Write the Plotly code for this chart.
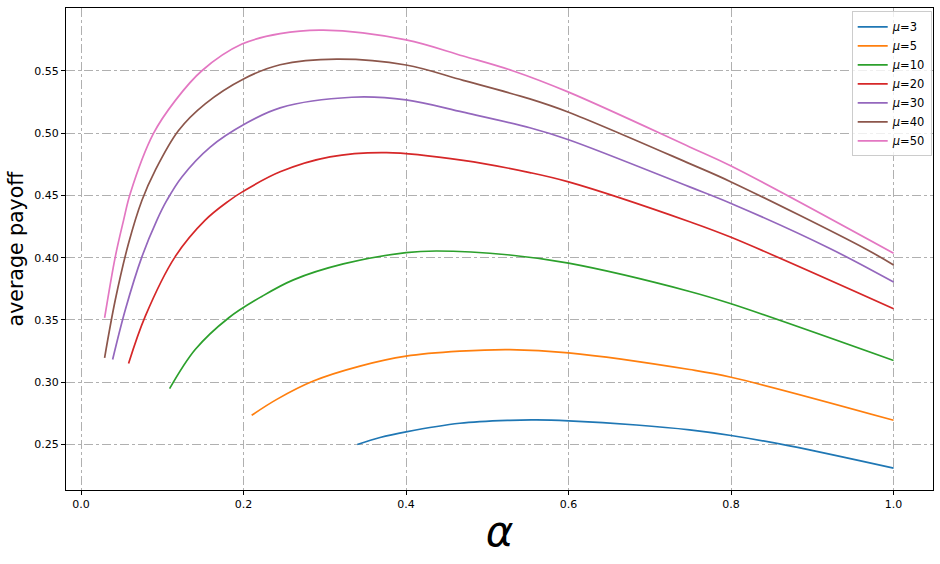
import plotly.graph_objects as go

mu_labels = ["3", "5", "10", "20", "30", "40", "50"]
colors = ["#1f77b4", "#ff7f0e", "#2ca02c", "#d62728", "#9467bd", "#8c564b", "#e377c2"]

x_mu3 = [0.34, 0.368, 0.40, 0.4662, 0.5277, 0.5605, 0.60, 0.6835, 0.749, 0.80, 0.872, 1.0]
y_mu3 = [0.250, 0.2556, 0.2601, 0.2670, 0.2694, 0.2697, 0.2689, 0.2656, 0.2617, 0.2572, 0.2489, 0.231]

x_mu5 = [0.21, 0.2409, 0.2859, 0.3433, 0.40, 0.4662, 0.5277, 0.60, 0.749, 0.80, 1.0]
y_mu5 = [0.2734, 0.2862, 0.3009, 0.3129, 0.3209, 0.3249, 0.3262, 0.3236, 0.3102, 0.3040, 0.2694]

x_mu10 = [0.109, 0.1405, 0.1815, 0.2225, 0.2614, 0.3228, 0.40, 0.4376, 0.5277, 0.60, 0.749, 0.80, 1.0]
y_mu10 = [0.2948, 0.3262, 0.3516, 0.3689, 0.3822, 0.3950, 0.4041, 0.4054, 0.4022, 0.3956, 0.3729, 0.363, 0.3174]

x_mu20 = [0.0585, 0.079, 0.1159, 0.1528, 0.1815, 0.20, 0.245, 0.3064, 0.376, 0.4703, 0.5523, 0.60, 0.749, 0.80, 1.0]
y_mu20 = [0.315, 0.3529, 0.4009, 0.4302, 0.4455, 0.4535, 0.4690, 0.4810, 0.4844, 0.4782, 0.4684, 0.4609, 0.4289, 0.4164, 0.359]

x_mu30 = [0.0389, 0.0545, 0.075, 0.0934, 0.1057, 0.1241, 0.159, 0.202, 0.245, 0.3331, 0.40, 0.4703, 0.5523, 0.60, 0.749, 0.80, 0.921, 1.0]
y_mu30 = [0.3182, 0.3582, 0.4009, 0.4302, 0.4462, 0.4649, 0.4889, 0.5076, 0.5204, 0.5289, 0.5268, 0.5169, 0.5044, 0.4948, 0.4569, 0.4436, 0.4076, 0.3804]

x_mu40 = [0.029, 0.0422, 0.0585, 0.075, 0.0913, 0.12, 0.1528, 0.20, 0.245, 0.3147, 0.40, 0.4703, 0.5523, 0.60, 0.749, 0.80, 0.964, 1.0]
y_mu40 = [0.3196, 0.3662, 0.4116, 0.4462, 0.4702, 0.5022, 0.5236, 0.5436, 0.5550, 0.5596, 0.5548, 0.5425, 0.5276, 0.5169, 0.4756, 0.4609, 0.4076, 0.3942]

x_mu50 = [0.029, 0.0422, 0.0524, 0.0606, 0.089, 0.1159, 0.1487, 0.198, 0.245, 0.2982, 0.40, 0.4703, 0.532, 0.60, 0.749, 0.80, 1.0]
y_mu50 = [0.3516, 0.4009, 0.4302, 0.4516, 0.4996, 0.5262, 0.5502, 0.5716, 0.580, 0.5828, 0.575, 0.5620, 0.550, 0.533, 0.489, 0.4737, 0.4036]

xs = [x_mu3, x_mu5, x_mu10, x_mu20, x_mu30, x_mu40, x_mu50]
ys = [y_mu3, y_mu5, y_mu10, y_mu20, y_mu30, y_mu40, y_mu50]

fig = go.Figure()
for lab, c, x, y in zip(mu_labels, colors, xs, ys):
    fig.add_trace(go.Scatter(x=x, y=y, mode="lines", name="<i>μ</i>=" + lab,
                             line=dict(color=c, width=1.7, shape="spline", smoothing=1.0)))

axis_common = dict(showline=True, linecolor="black", linewidth=1.2, mirror=True,
                   ticks="outside", ticklen=4, tickcolor="black",
                   showgrid=True, gridcolor="#b0b0b0", griddash="dashdot", gridwidth=1,
                   zeroline=False, tickfont=dict(size=11, color="black"))

fig.update_xaxes(range=[-0.0185, 1.0485], tickvals=[0, 0.2, 0.4, 0.6, 0.8, 1.0],
                 tickformat=".1f",
                 title=dict(text="<i>α</i>", font=dict(size=42, color="black"), standoff=6),
                 **axis_common)
fig.update_yaxes(range=[0.2134, 0.6006], tickvals=[0.25, 0.30, 0.35, 0.40, 0.45, 0.50, 0.55],
                 tickformat=".2f",
                 title=dict(text="average payoff", font=dict(size=20.5, color="black"), standoff=5),
                 **axis_common)

fig.update_layout(
    width=940, height=564,
    margin=dict(l=66, r=7, t=8, b=74),
    paper_bgcolor="white", plot_bgcolor="white",
    font=dict(family="DejaVu Sans", color="black"),
    showlegend=True,
    legend=dict(x=0.9985, y=0.993, xanchor="right", yanchor="top",
                bgcolor="rgba(255,255,255,0.8)", bordercolor="#cccccc", borderwidth=1,
                font=dict(size=11.5), tracegroupgap=0, itemwidth=30),
)

# page body has a default margin; drop it so the figure sits at the window corner
fig.write_html("out.html", config={"displayModeBar": False},
               post_script="document.body.style.margin='0';")
